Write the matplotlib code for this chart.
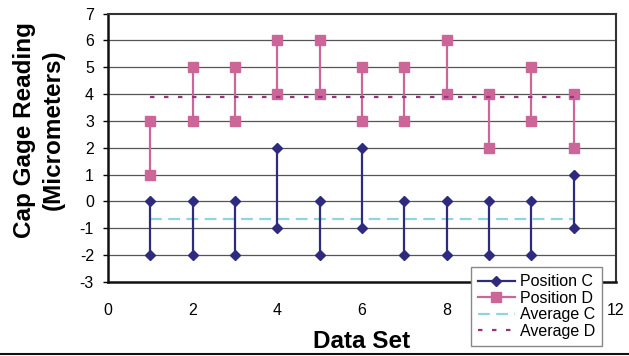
import matplotlib
matplotlib.use("Agg")
import matplotlib.pyplot as plt
from matplotlib.lines import Line2D

plt.rcParams['font.family'] = ['Liberation Sans', 'DejaVu Sans']
plt.rcParams['axes.unicode_minus'] = False

# data
data_set = [1, 2, 3, 4, 5, 6, 7, 8, 9, 10, 11]
pos_c_high = [0, 0, 0, 2, 0, 2, 0, 0, 0, 0, 1]
pos_c_low = [-2, -2, -2, -1, -2, -1, -2, -2, -2, -2, -1]
pos_d_high = [3, 5, 5, 6, 6, 5, 5, 6, 4, 5, 4]
pos_d_low = [1, 3, 3, 4, 4, 3, 3, 4, 2, 3, 2]
avg_span = [1, 11]
avg_c = -0.64
avg_d = 3.91

c_col = '#2E2A7E'
d_col = '#CC6699'
avgc_col = '#8FD6DC'
avgd_col = '#993377'

fig = plt.figure(figsize=(6.29, 3.56), dpi=100)
ax = fig.add_axes([0.1717, 0.2079, 0.8076, 0.754])

for y in range(-2, 7):
    ax.axhline(y, color='#555555', lw=0.9, zorder=1)

for i, x in enumerate(data_set):
    ax.plot([x, x], [pos_c_high[i], pos_c_low[i]], color=c_col, lw=1.6,
            marker='D', ms=5, zorder=3)
    ax.plot([x, x], [pos_d_high[i], pos_d_low[i]], color=d_col, lw=1.6,
            marker='s', ms=7, zorder=3)

ax.plot(avg_span, [avg_c, avg_c], color=avgc_col, lw=1.6,
        dashes=(5.3, 2.9), zorder=2)
ax.plot(avg_span, [avg_d, avg_d], color=avgd_col, lw=1.6,
        dashes=(2, 4.3), zorder=4)

ax.set_xlim(0, 12)
ax.set_ylim(-3, 7)
ax.set_xticks(range(0, 13, 2))
ax.set_yticks(range(-3, 8))
ax.tick_params(axis='x', length=0, pad=15, labelsize=11.5)
ax.tick_params(axis='y', length=3.6, width=1, pad=6.5, labelsize=11.5)

for side in ['left', 'bottom']:
    ax.spines[side].set_color('#111111')
    ax.spines[side].set_linewidth(1.8)
for side in ['top', 'right']:
    ax.spines[side].set_color('#333333')
    ax.spines[side].set_linewidth(1.5)

ax.set_xlabel('Data Set', fontsize=17.5, fontweight='bold')
ax.xaxis.set_label_coords(0.5, -0.18)
ax.set_ylabel('Cap Gage Reading\n(Micrometers)', fontsize=17.5,
              fontweight='bold', linespacing=1.3)
ax.yaxis.set_label_coords(-0.086, 0.567)

handles = [
    Line2D([], [], color=c_col, lw=1.6, marker='D', ms=5),
    Line2D([], [], color=d_col, lw=1.6, marker='s', ms=7),
    Line2D([], [], color=avgc_col, lw=1.6, dashes=(5.3, 2.9)),
    Line2D([], [], color=avgd_col, lw=1.6, dashes=(2, 4.3)),
]
labels = ['Position C', 'Position D', 'Average C', 'Average D']
leg = fig.legend(handles, labels, loc='upper right',
                 bbox_to_anchor=(0.957, 0.25), fontsize=11.5,
                 frameon=True, fancybox=False, framealpha=1,
                 edgecolor='#888888', handlelength=2.3, labelspacing=0.1,
                 borderpad=0.45, handletextpad=0.3, borderaxespad=0)
leg.get_frame().set_linewidth(1.0)
leg.set_zorder(10)

fig.add_artist(Line2D([0, 1], [0.006, 0.006], color='#111111', lw=1.5,
                      transform=fig.transFigure))

fig.savefig('out.png', dpi=100)
